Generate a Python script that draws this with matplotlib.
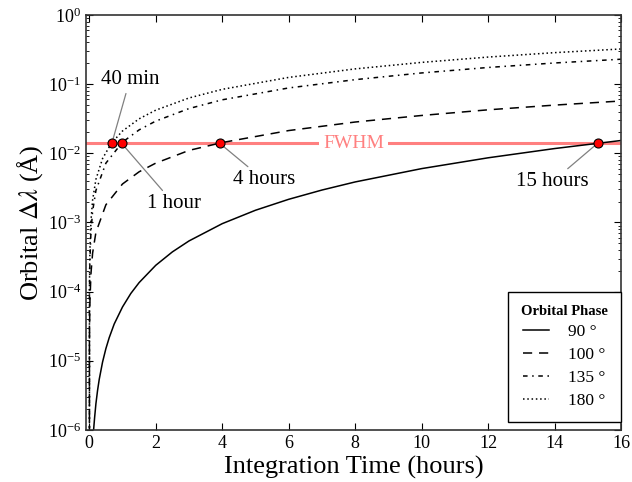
import matplotlib
matplotlib.use("Agg")
import matplotlib.pyplot as plt
import numpy as np

plt.rcParams['font.family'] = ['Liberation Serif', 'DejaVu Serif']
plt.rcParams['mathtext.fontset'] = 'stix'

# ---- data ----
t_90 = [0.10, 0.13, 0.16, 0.20, 0.25, 0.30, 0.40, 0.50, 0.60, 0.75, 1.0, 1.25, 1.5, 2.0,
        2.5, 3.0, 4.0, 5.0, 6.0, 7.0, 8.0, 10.0, 12.0, 14.0, 16.0]
d_90 = [6.0e-7, 1.0e-6, 1.5e-6, 2.4e-6, 3.75e-6, 5.4e-6, 9.6e-6, 1.5e-5, 2.16e-5, 3.4e-5,
        6.0e-5, 9.4e-5, 1.35e-4, 2.4e-4, 3.75e-4, 5.4e-4, 9.6e-4, 1.5e-3, 2.16e-3, 2.94e-3,
        3.85e-3, 6.0e-3, 8.6e-3, 1.17e-2, 1.53e-2]

t_100 = [0.0, 0.005, 0.01, 0.02, 0.05, 0.1, 0.2, 0.5, 1.0, 1.5, 2.0, 3.0, 4.0, 6.0,
         8.0, 10.0, 12.0, 14.0, 16.0]
d_100 = [0.0, 1.8e-5, 3.6e-5, 7.2e-5, 1.8e-4, 3.6e-4, 7.2e-4, 1.8e-3, 3.6e-3, 5.4e-3,
         7.2e-3, 1.10e-2, 1.43e-2, 2.13e-2, 2.83e-2, 3.52e-2, 4.25e-2, 4.97e-2, 5.7e-2]

t_135 = [0.0, 0.005, 0.01, 0.02, 0.05, 0.1, 0.2, 0.5, 1.0, 1.5, 2.0, 3.0, 4.0, 6.0,
         8.0, 10.0, 12.0, 14.0, 16.0]
d_135 = [0.0, 7.2e-5, 1.45e-4, 2.9e-4, 7.2e-4, 1.45e-3, 2.9e-3, 7.2e-3, 1.45e-2, 2.18e-2,
         2.92e-2, 4.43e-2, 5.93e-2, 8.8e-2, 0.116, 0.145, 0.174, 0.202, 0.229]

t_180 = [0.0, 0.005, 0.01, 0.02, 0.05, 0.1, 0.2, 0.4, 0.667, 1.0, 1.5, 2.0, 3.0, 4.0,
         6.0, 8.0, 10.0, 12.0, 14.0, 16.0]
d_180 = [0.0, 1.05e-4, 2.1e-4, 4.2e-4, 1.05e-3, 2.1e-3, 4.2e-3, 8.4e-3, 1.4e-2, 2.1e-2,
         3.15e-2, 4.2e-2, 6.3e-2, 8.4e-2, 0.125, 0.166, 0.206, 0.246, 0.285, 0.322]

phase_labels = ['90 °', '100 °', '135 °', '180 °']
fwhm = 0.014
cross_t = [0.68, 0.97, 3.92, 15.3]
cross_labels = ['40 min', '1 hour', '4 hours', '15 hours']
x_ticks = [0, 2, 4, 6, 8, 10, 12, 14, 16]

fig = plt.figure(figsize=(6.32, 4.82), dpi=100)
ax = fig.add_axes([0.136, 0.108, 0.8466, 0.861])
ax.set_yscale('log')

styles = [dict(linestyle='-'),
          dict(linestyle=(0, (6, 4.5))),
          dict(linestyle=(0, (3, 3, 1, 3))),
          dict(linestyle=(0, (1, 1.8)))]
series = [(t_90, d_90), (t_100, d_100), (t_135, d_135), (t_180, d_180)]
for (tt, dd), st, lab in zip(series, styles, phase_labels):
    ax.plot(tt, dd, color='black', lw=1.1, label=lab, **st)

ax.axhline(fwhm, color='#ff8080', lw=2.2, zorder=1)
ax.text(0.5, fwhm, 'FWHM', transform=ax.get_yaxis_transform(), color='#ff8080',
        fontsize=14, ha='center', va='center', zorder=3,
        bbox=dict(facecolor='white', edgecolor='none', pad=3))

ax.plot(cross_t, [fwhm] * len(cross_t), 'o', color='red', mec='black', mew=0.8,
        ms=6.5, zorder=5)

text_pos = [(1.22, 0.115), (2.55, 1.86e-3), (5.25, 4.13e-3), (13.93, 3.86e-3)]
for tc, lab, pos in zip(cross_t, cross_labels, text_pos):
    ax.annotate(lab, xy=(tc, fwhm), xytext=pos, fontsize=15, ha='center', va='center',
                arrowprops=dict(arrowstyle='-', color='gray', lw=0.9,
                                shrinkA=1, shrinkB=3), zorder=4)

ax.set_xlim(-0.1, 16)
ax.set_ylim(1e-6, 1)
ax.set_xticks(x_ticks)
ax.tick_params(which='both', direction='in', top=True, right=True, labelsize=13)
ax.tick_params(which='major', length=5, width=0.8)
ax.tick_params(which='minor', length=2.5, width=0.6)
ax.xaxis.set_minor_locator(matplotlib.ticker.NullLocator())
for s in ax.spines.values():
    s.set_color('#333333')
    s.set_linewidth(1.2)

ax.set_xlabel('Integration Time (hours)', fontsize=19, labelpad=3)
ax.set_ylabel('Orbital $\\Delta\\lambda$ (Å)', fontsize=19, labelpad=2)

leg = ax.legend(title='Orbital Phase', loc='lower right', bbox_to_anchor=(1.0, 0.02),
                borderaxespad=0, fontsize=12.5, title_fontsize=10.5, handlelength=1.5,
                fancybox=False, framealpha=1, edgecolor='black', borderpad=0.75,
                labelspacing=0.38, handletextpad=1.1)
leg.get_title().set_fontweight('bold')
leg.get_frame().set_linewidth(1.0)

fig.savefig('out.png', dpi=100)
